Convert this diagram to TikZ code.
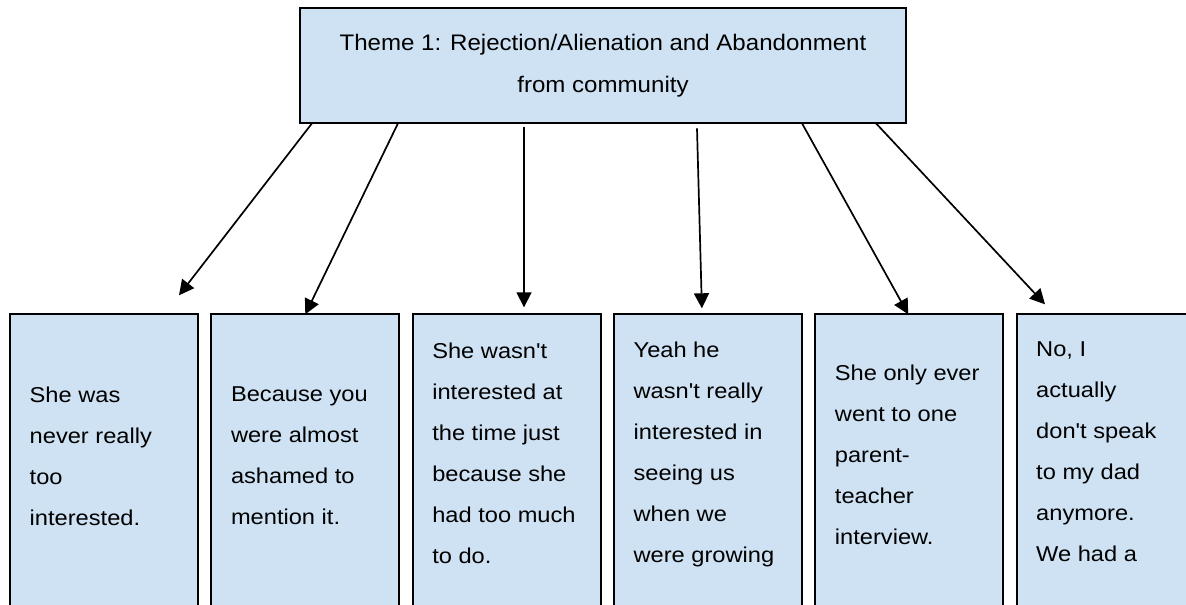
\documentclass[tikz,border=0pt]{standalone}
\usepackage{fontspec}
\setmainfont{Liberation Sans}
\usetikzlibrary{arrows.meta}
\definecolor{paleblue}{RGB}{207, 226, 243}
\newcommand{\apos}{\textquotesingle}

\begin{document}
\begin{tikzpicture}[x=1pt, y=-1pt,
  themebox/.style={draw=black, fill=paleblue, line width=2pt, inner sep=0, outer sep=0,
                   align=center, xscale=1.07, minimum width=566.4pt, minimum height=115pt,
                   font=\fontsize{22.5}{42}\selectfont},
  quotebox/.style={draw=black, fill=paleblue, line width=2pt, inner sep=0, outer sep=0,
                   anchor=north west, minimum width=188pt, minimum height=330pt},
  quotetext/.style={anchor=north west, inner sep=0, align=left, xscale=1.1,
                    font=\fontsize{21.5}{41}\selectfont},
  link/.style={-{Triangle[length=15pt, width=15pt]}, line width=1.7pt}]

  \useasboundingbox (0, 0) rectangle (1186, 605);
  \clip (0, 0) rectangle (1186, 605);

  \node[themebox] (theme) at (603, 65.8)
    {Theme 1: Rejection/Alienation and Abandonment\\from community};

  % quotes, cut off by the lower edge
  \node[quotebox] (q1) at (10, 314.3) {};
  \node[quotebox] (q2) at (211.3, 314.3) {};
  \node[quotebox] (q3) at (412.6, 314.3) {};
  \node[quotebox] (q4) at (613.9, 314.3) {};
  \node[quotebox] (q5) at (815.2, 314.3) {};
  \node[quotebox] (q6) at (1016.5, 314.3) {};

  \node[quotetext] (q1t) at ([xshift=19.5pt, yshift=-72.5pt]q1.north west)
    {She was\\never really\\too\\interested.};
  \node[quotetext] (q2t) at ([xshift=19.5pt, yshift=-72.5pt]q2.north west)
    {Because you\\were almost\\ashamed to\\mention it.};
  \node[quotetext] (q3t) at ([xshift=19.5pt, yshift=-28.5pt]q3.north west)
    {She wasn\apos t\\interested at\\the time just\\because she\\had too much\\to do.};
  \node[quotetext] (q4t) at ([xshift=19.5pt, yshift=-27pt]q4.north west)
    {Yeah he\\wasn\apos t really\\interested in\\seeing us\\when we\\were growing};
  \node[quotetext] (q5t) at ([xshift=19.5pt, yshift=-50.2pt]q5.north west)
    {She only ever\\went to one\\parent-\\teacher\\interview.};
  \node[quotetext] (q6t) at ([xshift=19.5pt, yshift=-27pt]q6.north west)
    {No, I\\actually\\don\apos t speak\\to my dad\\anymore.\\We had a};

  \draw[link] ([xshift=-291pt]theme.south) -- ([xshift=75pt, yshift=19pt]q1.north);
  \draw[link] ([xshift=-205pt]theme.south) -- (q2.north);
  \draw[link] ([xshift=-79pt, yshift=-4pt]theme.south) -- ([xshift=17.4pt, yshift=7pt]q3.north);
  \draw[link] ([xshift=94pt, yshift=-5pt]theme.south) -- ([xshift=-6pt, yshift=6pt]q4.north);
  \draw[link] ([xshift=199pt]theme.south) -- ([xshift=-1pt]q5.north);
  \draw[link] ([xshift=273pt]theme.south) -- ([xshift=-65.5pt, yshift=10pt]q6.north);

\end{tikzpicture}
\end{document}
